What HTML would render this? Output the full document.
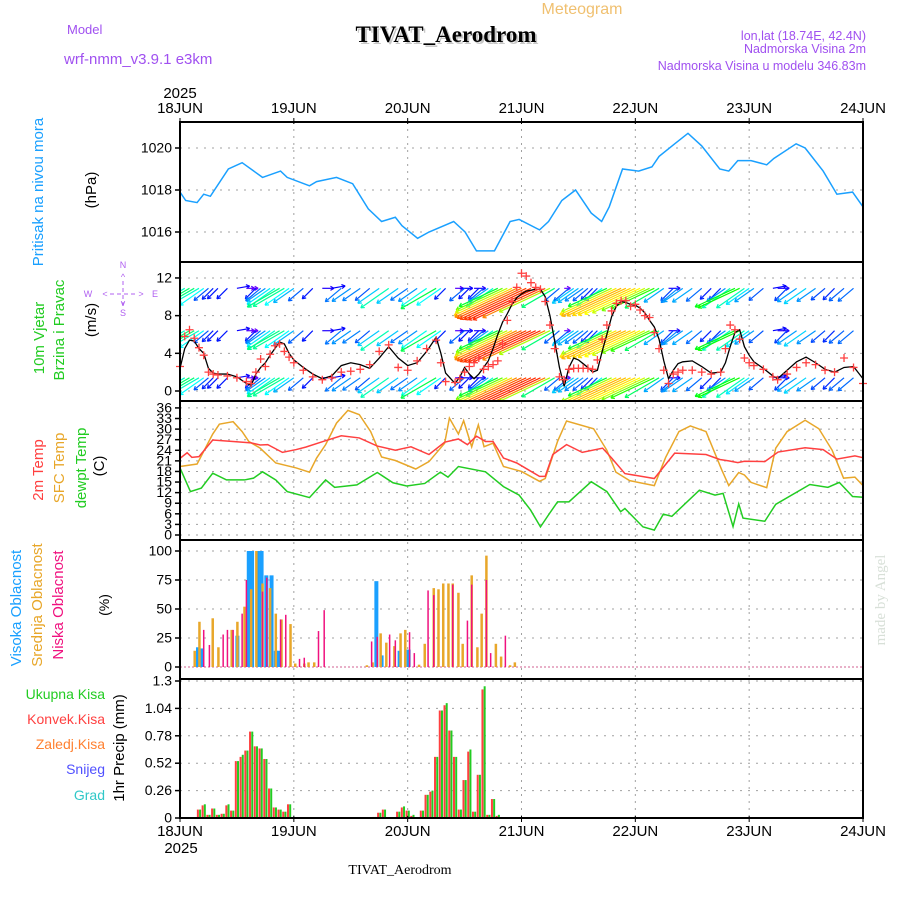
<!DOCTYPE html>
<html><head><meta charset="utf-8"><style>
html,body{margin:0;padding:0;background:#fff;}
svg{display:block;font-family:"Liberation Sans",sans-serif;}
</style></head><body>
<svg id="chart" width="900" height="900" viewBox="0 0 900 900" xmlns="http://www.w3.org/2000/svg">
<text x="582" y="14" fill="#f0c070" font-size="16" text-anchor="middle">Meteogram</text>
<text x="448" y="44" fill="#c8c8c8" font-size="23" font-weight="bold" font-family="Liberation Serif,serif" text-anchor="middle">TIVAT_Aerodrom</text>
<text x="446" y="42" fill="#000" font-size="23" font-weight="bold" font-family="Liberation Serif,serif" text-anchor="middle">TIVAT_Aerodrom</text>
<text x="67" y="34" fill="#a050f0" font-size="13">Model</text>
<text x="64" y="64" fill="#a050f0" font-size="15">wrf-nmm_v3.9.1 e3km</text>
<text x="866" y="40" fill="#a050f0" font-size="12.5" text-anchor="end">lon,lat (18.74E, 42.4N)</text>
<text x="866" y="53" fill="#a050f0" font-size="12.5" text-anchor="end">Nadmorska Visina 2m</text>
<text x="866" y="70" fill="#a050f0" font-size="12.5" text-anchor="end">Nadmorska Visina u modelu 346.83m</text>
<text x="180" y="98" font-size="15" text-anchor="middle">2025</text>
<text x="181" y="853" font-size="15" text-anchor="middle">2025</text>
<text x="400" y="874" font-size="14" font-family="Liberation Serif,serif" text-anchor="middle">TIVAT_Aerodrom</text>
<text transform="translate(885,600) rotate(-90)" fill="#d8e0d8" font-size="15" font-family="Liberation Serif,serif" text-anchor="middle">made by Angel</text>
<text transform="translate(43,192) rotate(-90)" fill="#1aa0ff" font-size="15" text-anchor="middle">Pritisak na nivou mora</text>
<text transform="translate(96,190) rotate(-90)" font-size="15" text-anchor="middle">(hPa)</text>
<text transform="translate(44,338) rotate(-90)" fill="#22cc22" font-size="15" text-anchor="middle">10m Vjetar</text>
<text transform="translate(64,330) rotate(-90)" fill="#22cc22" font-size="15" text-anchor="middle">Brzina i Pravac</text>
<text transform="translate(96,320) rotate(-90)" font-size="15" text-anchor="middle">(m/s)</text>
<g fill="#b060f0" font-size="9" text-anchor="middle">
<text x="123" y="268">N</text><text x="123" y="316">S</text><text x="88" y="297">W</text><text x="155" y="297">E</text>
<text x="123" y="280">^</text><text x="123" y="306">v</text><text x="105" y="297">&lt;</text><text x="141" y="297">&gt;</text>
<line x1="110" y1="294" x2="137" y2="294" stroke="#b060f0" stroke-dasharray="4,3"/><line x1="123" y1="281" x2="123" y2="306" stroke="#b060f0" stroke-dasharray="4,3"/>
</g>
<text transform="translate(43,470) rotate(-90)" fill="#ff4040" font-size="15" text-anchor="middle">2m Temp</text>
<text transform="translate(64,468) rotate(-90)" fill="#e8a72a" font-size="15" text-anchor="middle">SFC Temp</text>
<text transform="translate(86,468) rotate(-90)" fill="#22cc22" font-size="15" text-anchor="middle">dewpt Temp</text>
<text transform="translate(104,466) rotate(-90)" font-size="15" text-anchor="middle">(C)</text>
<text transform="translate(21,608) rotate(-90)" fill="#1aa0ff" font-size="15" text-anchor="middle">Visoka Oblacnost</text>
<text transform="translate(42,605) rotate(-90)" fill="#e8a72a" font-size="15" text-anchor="middle">Srednja Oblacnost</text>
<text transform="translate(63,605) rotate(-90)" fill="#f0117f" font-size="15" text-anchor="middle">Niska Oblacnost</text>
<text transform="translate(109,605) rotate(-90)" font-size="14" text-anchor="middle">(%)</text>
<g font-size="14" text-anchor="end">
<text x="105" y="699" fill="#22cc22">Ukupna Kisa</text>
<text x="105" y="724" fill="#ff4040">Konvek.Kisa</text>
<text x="105" y="749" fill="#ff8030">Zaledj.Kisa</text>
<text x="105" y="774" fill="#5050ff">Snijeg</text>
<text x="105" y="800" fill="#30c8c8">Grad</text>
</g>
<text transform="translate(124,748) rotate(-90)" font-size="15" text-anchor="middle">1hr Precip (mm)</text>
<defs><clipPath id="c2"><rect x="180" y="262" width="683" height="139"/></clipPath></defs>
<g id="grid"></g><g id="marks"></g><g id="axes"></g>
</svg>
<script>
// ---- data ----
const dayLabels=["18JUN","19JUN","20JUN","21JUN","22JUN","23JUN","24JUN"];
const presTicks=[1016,1018,1020];
const windTicks=[0,4,8,12];
const tempTicks=[0,3,6,9,12,15,18,21,24,27,30,33,36];
const cloudTicks=[0,25,50,75,100];
const precTicks=[0,0.26,0.52,0.78,1.04,1.3];
const presH=[0,1.2,3.6,5,6.4,10.2,13.1,17.4,21.2,22.6,27.3,28.8,33,36.4,39.7,42.5,45.4,46.8,50.1,52.5,57.7,60.1,62.5,66.3,69.6,71.5,75.8,77.7,80.5,83.4,86.7,88.9,90.5,93.3,96.7,99.5,101,104.3,107.1,110,113.8,115.7,117.6,120.4,123.7,125.2,129.9,131.8,135.6,138.5,141.8,144];
const presV=[1017.9,1017.5,1017.4,1017.8,1017.7,1019.0,1019.3,1018.6,1018.9,1018.6,1018.2,1018.4,1018.6,1018.3,1017.1,1016.5,1016.7,1016.3,1015.7,1016.0,1016.5,1016.0,1015.1,1015.1,1016.5,1016.6,1016.1,1016.5,1017.5,1018.0,1016.9,1016.5,1017.2,1019.0,1018.9,1019.1,1019.6,1020.2,1020.7,1020.1,1019.0,1018.9,1019.4,1019.4,1019.2,1019.5,1020.2,1020.0,1018.9,1017.8,1017.9,1017.2];
const windH=[0,1,2,3,4,5,6,7,8,10,12,14,15,16,17,18,19,20,21,22,23,24,26,28,30,32,34,36,38,40,42,44,46,48,50,52,54,55,56,58,59,60,61,62,63,64,65,66,67,68,69,70,71,72,73,74,75,76,77,78,79,80,81,82,83,84,85,86,87,88,89,90,91,92,93,94,95,96,97,98,99,100,101,102,103,104,105,106,108,110,112,114,115,116,117,118,119,120,121,123,125,126,128,130,132,134,136,138,140,142,144];
const windSpd=[2.4,4.5,5.4,5.3,4.5,4.0,2.4,1.9,1.8,1.8,1.5,0.8,0.6,1.8,2.5,3.0,3.8,4.5,5.2,5.0,4.0,3.3,2.5,1.8,1.3,1.6,2.7,3.0,2.8,2.4,3.5,4.7,3.5,2.7,3.0,4.2,5.7,4.0,1.9,0.8,1.5,2.5,1.8,1.3,1.8,2.5,3.2,4.5,6.0,7.3,8.2,9.2,9.9,10.3,10.6,10.7,10.8,10.8,10.0,8.0,5.3,2.5,0.5,2.5,3.5,3.3,2.9,2.5,2.0,2.2,4.2,6.0,7.9,9.0,9.5,9.4,9.2,9.1,8.8,8.3,7.5,6.8,5.5,3.2,1.3,2.2,2.9,3.1,3.2,2.6,1.9,2.0,3.0,4.7,6.2,6.5,4.7,3.8,3.1,2.4,1.6,1.3,2.2,3.1,3.6,3.0,2.3,2.0,2.5,2.6,1.3];
const windGust=[2.6,5.8,6.5,5.6,4.6,3.8,2.0,1.8,1.7,1.6,1.4,1.0,0.8,2.0,3.4,2.6,3.9,4.8,5.0,4.2,3.6,3.0,2.2,1.5,1.2,1.4,2.0,2.1,2.3,2.8,4.2,4.9,2.5,2.2,3.2,4.5,5.4,3.0,1.0,0.9,1.3,2.0,2.6,3.0,3.5,2.3,2.6,2.8,3.2,5.0,7.5,9.5,11.0,12.5,12.2,11.5,11.0,10.8,9.5,7.0,4.5,1.5,1.2,2.3,2.4,2.4,2.4,2.4,2.3,3.3,5.5,7.0,8.5,9.3,9.6,9.6,9.0,9.2,8.6,8.0,7.8,6.2,4.5,2.2,0.8,1.8,2.0,2.2,2.2,2.0,1.8,2.0,4.5,7.0,6.5,5.5,3.5,3.0,2.7,2.3,1.5,1.2,1.8,2.5,3.0,2.8,2.2,2.0,3.5,2.5,0.8];
const windDir=[220,210,210,210,210,215,220,225,225,225,10,0,0,225,220,215,215,215,210,210,215,215,220,225,0,10,220,215,215,220,215,215,215,215,215,215,210,215,225,0,0,220,225,0,225,220,215,215,205,205,205,205,205,205,205,205,205,205,205,205,210,220,0,220,215,215,215,220,225,225,215,205,205,205,205,205,205,205,205,205,205,205,210,215,0,225,220,215,215,220,225,225,215,215,205,205,215,215,215,220,10,0,225,215,215,215,220,225,220,220,0];
const tempH=[0,1.5,2.5,4,6.9,11.2,15,16.9,18.5,21.6,24.5,26.5,30.2,34,37.8,41.6,45.4,48.7,52.5,55.8,58.7,60.6,62.5,64.4,66,68.2,71,73.4,75.8,77,78.6,81.5,84.8,89.1,91,93.8,100,104.3,110.9,113.8,115.7,117.6,119,123.3,126.1,131.8,135.6,138.5,142.3,144];
const temp2m=[21.7,23.3,22.0,22.2,26.9,26.5,26.1,25.5,25.6,23.4,24.2,24.9,26.5,28.1,27.5,25.2,24.0,25.0,22.8,26.3,27.2,25.6,28.0,26.5,26.5,21.8,20.4,18.5,16.6,16.6,22.8,25.6,23.4,24.6,21.8,17.4,16.0,23.2,22.8,21.4,21.0,20.5,20.9,20.8,23.5,24.7,24.2,21.5,22.4,21.9];
const sfcH=[0,3.6,6.9,8.3,11.2,13.1,14.5,16.9,20.2,24.5,27.3,28.8,30.7,33,35.4,37.8,40.2,42.5,45.4,49.7,52.5,55.8,56.8,58.7,59.8,61.5,62.9,64.1,66,68.2,72,75.8,77,79.6,81.5,87.2,90,91.9,94.8,100,102.4,105.2,107.6,110.9,114.2,115.7,117.8,119,120.4,123.7,125.6,128,131.8,134.7,137.5,139.9,142.3,144];
const sfcTemp=[19.4,20.1,28.6,31.4,32.1,29.3,26.5,24.6,20.4,19.0,17.8,21.8,25.6,31.7,35.3,34.1,29.3,22.1,21.1,18.7,20.8,26.0,33.1,28.6,32.4,25.0,31.2,25.0,26.0,19.4,18.0,15.2,16.0,26.5,32.3,30.1,24.0,17.8,15.4,14.0,22.0,29.3,30.9,29.3,18.5,14.0,17.7,17.0,14.9,13.4,24.6,29.3,32.5,30.1,24.0,16.1,16.4,14.0];
const dewH=[0,2.2,4.5,6.9,9.8,13.6,15.5,17.4,20.2,22.6,27.3,30.7,32.6,37.3,41.6,44.9,47.8,51.6,54.9,56.5,58.7,64.4,68.2,71.5,73.9,76,77.7,79.6,82,86.7,90,92.9,93.8,97.6,100,101.9,103.7,109.5,112.8,114.5,116.6,117.8,118.7,123.3,125.6,132.8,136.6,139,141.8,144];
const dewTemp=[19.0,12.3,13.3,17.5,15.6,15.6,16.1,17.9,15.6,12.3,10.6,15.6,13.5,14.2,17.7,14.8,13.9,14.6,17.8,16.4,19.4,17.9,13.7,11.3,7.1,2.3,5.7,9.4,9.4,15.1,12.3,6.6,7.5,2.3,1.4,5.9,5.3,12.7,11.3,11.8,2.4,8.8,4.8,3.9,8.7,14.3,13.5,14.9,10.9,10.7];
const midH=[3.1,4.1,6.9,8.1,10.9,12.1,13.6,15,16.1,17.4,19,20.2,21.4,23.3,24.3,26.2,27.1,28.3,39.4,40.6,42.3,43.5,45.2,46.5,47.5,50.4,51.6,53.5,54.5,55.5,56.6,57.5,58.7,59.6,61.5,62.7,63.6,64.6,66.6,67.7,69.6,70.6];
const midCloud=[14,39,42,17,32,39,52,67,100,72,68,46,41,37,3,3,4,4,1.5,4,29,21,18,29,32,2,20,68,67,72,72,72,64,20,79,17,46,96,20,9,1.5,4];
const highH=[3.8,4.7,12.1,14.5,15.2,16.4,17.2,18.2,19.3,20.2,20.7,41.4,42.5,46.3,48.2];
const highCloud=[17,16,27,100,100,100,100,79,79,14,14,74,10,14,15];
const lowH=[5,6.2,9.1,10,11.2,13.1,14,17.4,18.3,21.2,22.3,25.2,26.2,29.2,30.4,40.4,41.6,44.2,45.4,48.4,49.4,52.3,53.5,57.5,60.6,61.5,64.6,65.5,68.6];
const lowCloud=[32,19,28,32,32,46,75,65,77,41,45,7,8,31,49,22,26,28,23,30,12,66,62,71,40,71,75,12,27];
const precH=[4,5,6,7,8,9,10,11,12,13,14,15,16,17,18,19,20,21,22,23,41,42,43,46,47,48,49,51,52,53,54,55,56,57,58,59,60,61,62,63,64,65,66,67];
const precTotal=[0.08,0.13,0.03,0.09,0.03,0.04,0.13,0.07,0.54,0.60,0.64,0.82,0.68,0.66,0.56,0.28,0.10,0.08,0.06,0.13,0.01,0.05,0.08,0.06,0.11,0.07,0.03,0.07,0.22,0.26,0.58,1.02,1.09,0.83,0.58,0.08,0.36,0.65,0.06,0.41,1.25,0.03,0.18,0.03];
const precConv=[0.08,0.12,0.03,0.09,0.03,0.04,0.12,0.07,0.54,0.58,0.64,0.82,0.68,0.66,0.56,0.28,0.10,0.08,0.06,0.13,0.01,0.05,0.08,0.06,0.10,0.07,0.02,0.07,0.22,0.25,0.58,1.02,1.07,0.83,0.58,0.08,0.36,0.63,0.06,0.41,1.22,0.03,0.18,0.02];

// ---- scales ----
const X0=180,X1=863;
const xS=h=>X0+h*(X1-X0)/144;
const yP=v=>148+(1020-v)*21;
const yW=v=>391-v*9.42;
const yT=v=>535-v*3.53;
const yC=v=>667-v*1.16;
const yR=v=>818-v*(818-681)/1.3;
const NS="http://www.w3.org/2000/svg";
const grid=document.getElementById('grid'),marks=document.getElementById('marks'),axes=document.getElementById('axes');
function mk(tag,attrs,parent){const e=document.createElementNS(NS,tag);for(const k in attrs)e.setAttribute(k,attrs[k]);parent.appendChild(e);return e;}
const panels=[[122,262],[262,401],[401,540],[540,679],[679,818]];
for(let d=1;d<6;d++){const x=xS(d*24);
  const g=mk('line',{x1:x,y1:122,x2:x,y2:818,stroke:'#a0a0a0','stroke-dasharray':'2,5'},grid);
  
  }
function hgrid(ticks,f,nm){ticks.forEach(t=>{const y=f(t);
  const g=mk('line',{x1:X0,y1:y,x2:X1,y2:y,stroke:'#a0a0a0','stroke-dasharray':'2,6'},grid);
  
  
  mk('line',{x1:X0-5,y1:y,x2:X0,y2:y,stroke:'#000','stroke-width':1.5},axes);
  const t2=mk('text',{x:X0-8,y:y+4.5,'font-size':14,'text-anchor':'end'},axes);
  t2.textContent=String(t);
  
  });}
hgrid(presTicks,yP,'pressure');hgrid(windTicks,yW,'wind');hgrid(tempTicks,yT,'temp');hgrid(cloudTicks,yC,'cloud');hgrid(precTicks,yR,'precip');
dayLabels.forEach((l,i)=>{const x=xS(i*24);
  const a=mk('text',{x:x,y:113,'font-size':15,'text-anchor':'middle'},axes);a.textContent=l;
  
  
  const b=mk('text',{x:x,y:836,'font-size':15,'text-anchor':'middle'},axes);b.textContent=l;
  
  
  mk('line',{x1:x,y1:118,x2:x,y2:124,stroke:'#000'},axes);mk('line',{x1:x,y1:816,x2:x,y2:822,stroke:'#000'},axes);});
function poly(H,V,fy,col,nm,w){const p=mk('polyline',{points:H.map((h,i)=>xS(h)+','+fy(V[i])).join(' '),fill:'none',stroke:col,'stroke-width':w||1.5},marks);
  
  return p;}
poly(presH,presV,yP,'#1aa0ff','pressure-line');
const wg=mk('g',{'clip-path':'url(#c2)'},marks);


function spdCol(s){let h=280-s*25;if(h<0)h=340+h*0.5;return 'hsl('+h+',100%,50%)';}
[10.9,6.4,1.4].forEach(base=>{windH.forEach((h,i)=>{const s=windSpd[i],a=windDir[i]*Math.PI/180,L=3+s*6.6;
  const x1=xS(h),y1=yW(base),x2=x1+L*Math.cos(a),y2=y1-L*Math.sin(a);const c=spdCol(s);
  const ln=mk('line',{x1:x1,y1:y1,x2:x2,y2:y2,stroke:c,'stroke-width':1.2},wg);
  
  
  const hA=4;[a+2.6,a-2.6].forEach(b=>mk('line',{x1:x2,y1:y2,x2:x2+hA*Math.cos(b),y2:y2-hA*Math.sin(b),stroke:c,'stroke-width':1.2},wg));});});
poly(windH,windSpd,yW,'#000','wind-speed-line',1.3);
windH.forEach((h,i)=>{const x=xS(h),y=yW(windGust[i]);
  const g=mk('path',{d:`M${x-4},${y}H${x+4}M${x},${y-4}V${y+4}`,stroke:'#ff4040','stroke-width':1.3},marks);
  
  });
poly(sfcH,sfcTemp,yT,'#e8a72a','sfc-temp-line');
poly(tempH,temp2m,yT,'#ff4040','temp-2m-line');
poly(dewH,dewTemp,yT,'#22cc22','dewpoint-line');
function bars(H,V,fy,col,w,off,nm){H.forEach((h,i)=>{const x=xS(h)+off,y=fy(V[i]),y0=fy(0);
  const r=mk('rect',{x:x-w/2,y:Math.min(y,y0),width:w,height:Math.abs(y0-y),fill:col},marks);
  
  });}
mk('line',{x1:X0,y1:yC(0),x2:X1,y2:yC(0),stroke:'#d06090','stroke-dasharray':'2,2'},marks);
bars(highH,highCloud,yC,'#1aa0ff',4,0,'high-cloud-bar');
bars(midH,midCloud,yC,'#e8a72a',2.5,0,'mid-cloud-bar');
bars(lowH,lowCloud,yC,'#f0117f',1.5,0,'low-cloud-bar');
bars(precH,precTotal,yR,'#22cc22',2,1.1,'total-precip-bar');
bars(precH,precConv,yR,'#ff4040',2,-1.1,'convective-precip-bar');
panels.forEach((p,i)=>{const r=mk('rect',{x:X0,y:p[0],width:X1-X0,height:p[1]-p[0],fill:'none',stroke:'#000','stroke-width':2},axes);
  
  });
</script>
</body></html>
